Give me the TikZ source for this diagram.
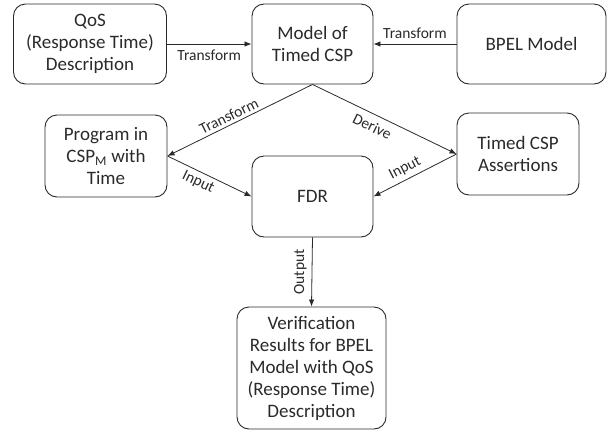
\documentclass[tikz,border=0pt]{standalone}
\usepackage{fontspec}
\setmainfont{Carlito}
\usetikzlibrary{arrows.meta}
\definecolor{ink}{HTML}{2A2A2A}
\begin{document}
\begin{tikzpicture}[x=1pt,y=-1pt,
  box/.style={draw=ink, line width=0.9pt, rounded corners=12pt, align=center,
    text=ink, font=\fontsize{19}{22}\selectfont, inner sep=2pt},
  conn/.style={draw=ink, line width=0.8pt, -{Latex[length=7pt,width=5.5pt]}},
  lbl/.style={text=ink, font=\fontsize{15.5}{17}\selectfont, inner sep=2pt}]
\useasboundingbox (0,0) rectangle (614,432);
\node[box, minimum width=153pt, minimum height=80pt] (qos) at (90,44) {QoS\\(Response Time)\\Description};
\node[box, minimum width=121pt, minimum height=80pt] (model) at (312.5,44) {Model of\\Timed CSP};
\node[box, minimum width=149pt, minimum height=80pt] (bpel) at (531.5,44) {BPEL Model};
\node[box, minimum width=122pt, minimum height=82pt] (prog) at (106,156) {Program in\\CSP\textsubscript{M} with\\Time};
\node[box, minimum width=122pt, minimum height=82pt] (assert) at (518,154) {Timed CSP\\Assertions};
\node[box, minimum width=121pt, minimum height=81pt] (fdr) at (312.5,196.5) {FDR};
\node[box, minimum width=149pt, minimum height=122pt] (ver) at (311.5,368) {Verification\\Results for BPEL\\Model with QoS\\(Response Time)\\Description};
\draw[conn] (qos.east) -- node[lbl, below=3pt] {Transform} (model.west);
\draw[conn] (bpel.west) -- node[lbl, above=3pt] {Transform} (model.east);
\draw[conn] (model.south) -- node[lbl, sloped, above=1pt, pos=0.55] {Transform} (prog.east);
\draw[conn] (model.south) -- node[lbl, sloped, below=4pt, pos=0.45] {Derive} (assert.west);
\draw[conn] (prog.east) -- node[lbl, sloped, below=2pt, pos=0.42] {Input} (fdr.west);
\draw[conn] (assert.west) -- node[lbl, sloped, above=2pt, pos=0.56] {Input} (fdr.east);
\draw[conn] (fdr.south) -- node[lbl, rotate=90, anchor=south, midway, yshift=3pt] {Output} (ver.north);
\end{tikzpicture}
\end{document}
